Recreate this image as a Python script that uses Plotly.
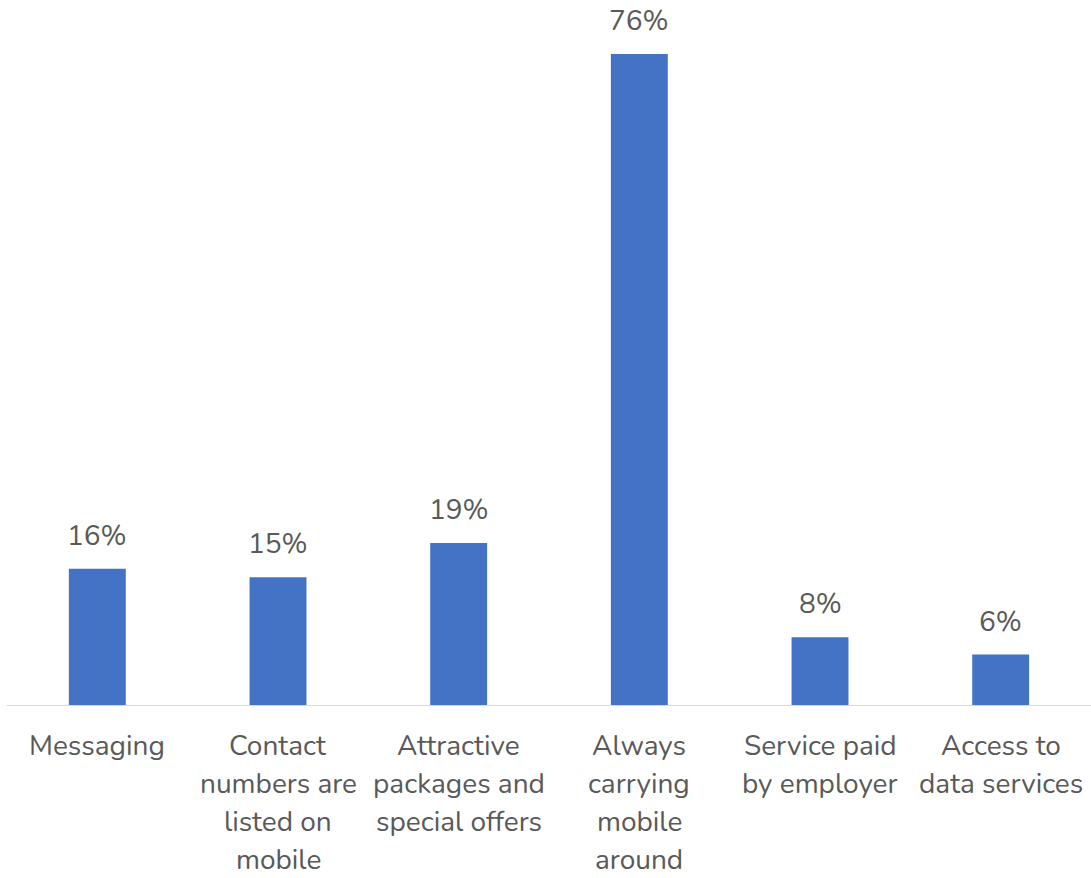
import plotly.graph_objects as go

categories = [
    "Messaging",
    "Contact<br>numbers are<br>listed on<br>mobile",
    "Attractive<br>packages and<br>special offers",
    "Always<br>carrying<br>mobile<br>around",
    "Service paid<br>by employer",
    "Access to<br>data services",
]
values = [16, 15, 19, 76, 8, 6]
value_labels = ["16%", "15%", "19%", "76%", "8%", "6%"]

FONT = "Nunito, Lato, 'Open Sans', sans-serif"
TEXT_COLOR = "#595959"
BAR_COLOR = "#4472C4"

fig = go.Figure()
fig.add_trace(go.Bar(
    x=list(range(len(categories))),
    y=values,
    marker=dict(color=BAR_COLOR, line=dict(width=0)),
    hoverinfo="skip",
))

annotations = []
# value labels above bars
for i, (v, lab) in enumerate(zip(values, value_labels)):
    annotations.append(dict(
        x=i, y=v, xref="x", yref="y", text=lab, showarrow=False,
        yanchor="bottom", yshift=12,
        font=dict(family=FONT, size=28, color=TEXT_COLOR),
    ))
# category labels below the axis, one line each
for i, cat in enumerate(categories):
    for j, line in enumerate(cat.split("<br>")):
        annotations.append(dict(
            x=i, y=0, xref="x", yref="y", text=line, showarrow=False,
            yanchor="middle", yshift=-40 - 38 * j, borderpad=0,
            font=dict(family=FONT, size=28, color=TEXT_COLOR),
        ))

fig.update_layout(
    width=1091, height=878,
    margin=dict(l=7, r=0, t=0, b=172),
    paper_bgcolor="white", plot_bgcolor="white",
    showlegend=False,
    bargap=0.685,
    annotations=annotations,
    xaxis=dict(
        range=[-0.5, len(categories) - 0.5],
        showticklabels=False, showgrid=False, zeroline=False,
        showline=False, ticks="",
    ),
    yaxis=dict(
        range=[0, 82.3], visible=False, showgrid=False, zeroline=False,
    ),
    shapes=[dict(
        type="line", xref="paper", yref="y", x0=0, x1=1, y0=0, y1=0,
        line=dict(color="#D9D9D9", width=2),
    )],
)

fig.write_html("out.html")
